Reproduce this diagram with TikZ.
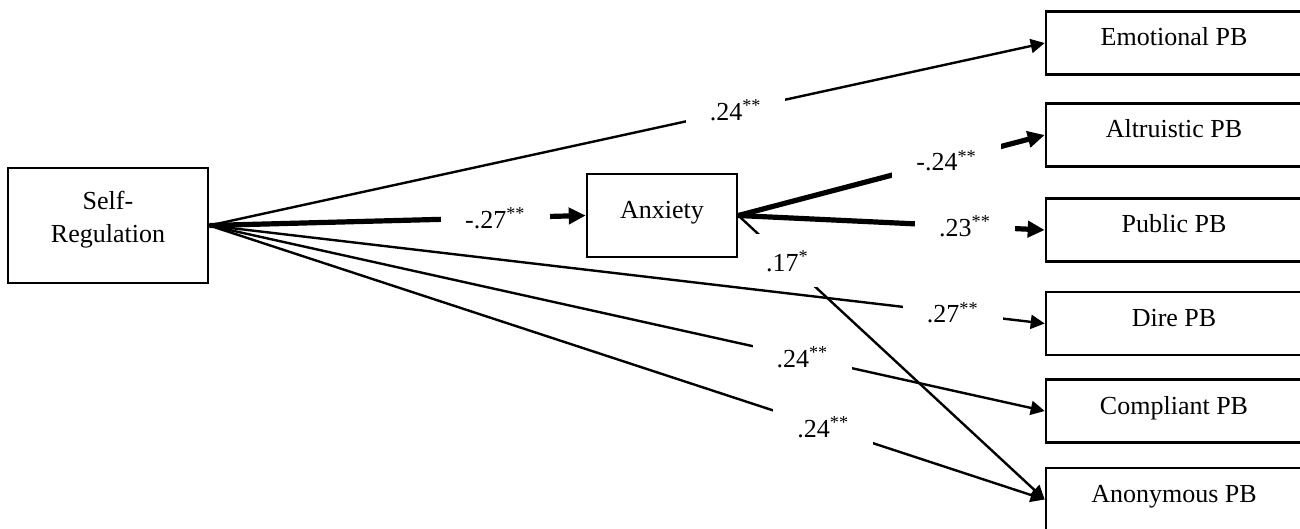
\documentclass[tikz,border=0pt]{standalone}
\usepackage{fontspec}
\setmainfont{Liberation Serif}
\usetikzlibrary{arrows.meta}

\begin{document}
\begin{tikzpicture}[x=0.5pt, y=-0.5pt,
  every node/.style={font=\fontsize{13}{16.5}\selectfont},
  var/.style={draw, line width=1.3pt, fill=white, align=center, inner sep=0pt},
  pb/.style={var, minimum width=128pt, minimum height=31.5pt, text height=9pt, text depth=6pt},
  coef/.style={fill=white, inner xsep=12pt, inner ysep=8pt},
  weak/.style={line width=1.2pt, -{Triangle[length=7pt, width=7pt]}},
  strong/.style={line width=2.6pt, -{Triangle[length=8.5pt, width=8pt]}}]
	\useasboundingbox (0,0) rectangle (1300,529);
	\node[var, minimum width=100pt, minimum height=57.5pt, text depth=8.5pt] (sr) at (108, 225.5) {Self-\\Regulation};
	\node[var, minimum width=75pt, minimum height=41.5pt, text height=9pt, text depth=6pt] (anx) at (662, 215.5) {Anxiety};
	\node[pb] (emo) at (1174, 43) {Emotional PB};
	\node[pb] (alt) at (1174, 135) {Altruistic PB};
	\node[pb] (pub) at (1174, 230) {Public PB};
	\node[pb] (dire) at (1174, 323.5) {Dire PB};
	\node[pb] (comp) at (1174, 411) {Compliant PB};
	\node[pb] (anon) at (1174, 499.5) {Anonymous PB};
	\draw[weak] (sr.east) -- node[coef, pos=0.63] {.24\textsuperscript{**}} (emo.west);
	\draw[strong] (sr.east) -- node[coef, pos=0.76] {-.27\textsuperscript{**}} (anx.west);
	\draw[weak] (sr.east) -- node[coef, pos=0.89] {.27\textsuperscript{**}} (dire.west);
	\draw[weak] (sr.east) -- node[coef, pos=0.71] {.24\textsuperscript{**}} (comp.west);
	\draw[weak] (sr.east) -- node[coef, pos=0.735] {.24\textsuperscript{**}} (anon.west);
	\draw[strong] (anx.east) -- node[coef, pos=0.68] {-.24\textsuperscript{**}} (alt.west);
	\draw[strong] (anx.east) -- node[coef, pos=0.74] {.23\textsuperscript{**}} (pub.west);
	\draw[weak] (anx.east) -- node[coef, pos=0.16] {.17\textsuperscript{*}} (anon.west);
\end{tikzpicture}
\end{document}
